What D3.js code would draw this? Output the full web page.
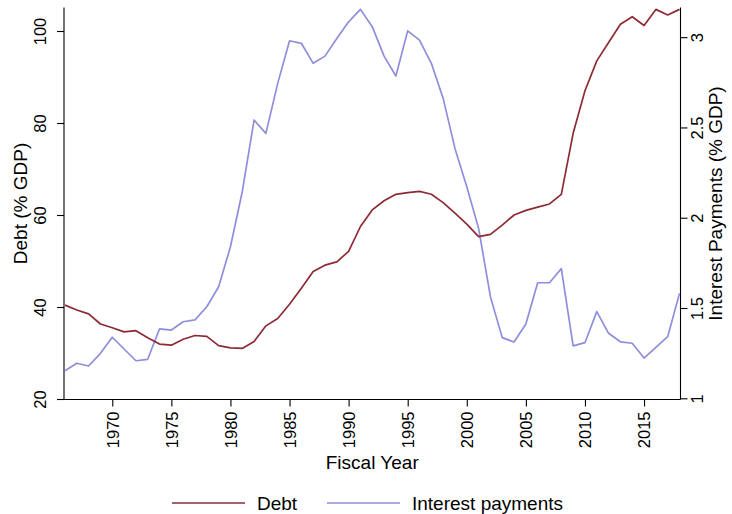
<!DOCTYPE html>
<html lang="en">
<head>
  <meta charset="UTF-8">
  <title>Debt and Interest Payments</title>
  <style>
    body { margin: 0; background: #fff; }
    svg { display: block; font-family: "Liberation Sans", Arial, sans-serif; }
    .axis path, .axis line { stroke: #000; stroke-width: 1.1; }
    .axis text { fill: #000; font-size: 16.5px; }
    .title { font-size: 19px; fill: #000; }
  </style>
</head>
<body>
  <script src="https://d3js.org/d3.v7.min.js"></script>
  <script>
    // fiscal years
    const years = [1966,1967,1968,1969,1970,1971,1972,1973,1974,1975,1976,1977,1978,1979,
      1980,1981,1982,1983,1984,1985,1986,1987,1988,1989,1990,1991,1992,1993,1994,1995,
      1996,1997,1998,1999,2000,2001,2002,2003,2004,2005,2006,2007,2008,2009,2010,2011,
      2012,2013,2014,2015,2016,2017,2018];

    // debt, % GDP (left axis)
    const debt = [40.4,39.35,38.5,36.3,35.5,34.6,34.85,33.3,31.95,31.7,33.0,33.8,33.6,31.6,
      31.1,31.0,32.5,35.9,37.5,40.6,44.1,47.7,49.1,49.8,52.1,57.5,61.1,63.1,64.5,64.85,
      65.15,64.5,62.7,60.4,58.0,55.3,55.8,57.8,60.0,61.0,61.7,62.4,64.5,77.75,87.0,93.5,
      97.5,101.45,103.1,101.2,104.7,103.5,104.7];

    // interest payments, % GDP (right axis)
    const interest = [1.153,1.194,1.179,1.249,1.338,1.273,1.208,1.216,1.385,1.378,1.424,1.434,
      1.507,1.618,1.839,2.144,2.541,2.467,2.744,2.980,2.966,2.855,2.895,2.993,3.085,3.154,
      3.058,2.895,2.785,3.035,2.984,2.855,2.661,2.384,2.172,1.941,1.563,1.336,1.312,1.411,
      1.640,1.640,1.718,1.290,1.308,1.480,1.360,1.313,1.305,1.223,1.282,1.341,1.581];

    const xTicks = [1970,1975,1980,1985,1990,1995,2000,2005,2010,2015];
    const leftTicks = [20,40,60,80,100];
    const rightTicks = [1,1.5,2,2.5,3];

    const W = 732, H = 514;
    const plot = {left: 64, right: 680.5, top: 7.5, bottom: 399.5};

    const svg = d3.select('body').append('svg')
      .attr('width', W).attr('height', H);

    const x = d3.scaleLinear().domain([1966, 2018]).range([plot.left + 1, plot.right - 1]);
    const yL = d3.scaleLinear().domain([20, 105]).range([399, 8]);
    const yR = d3.scaleLinear().domain([1, 3.1615]).range([398.3, 8]);

    // axes
    const xAxis = svg.append('g').attr('class', 'axis')
      .attr('transform', `translate(0,${plot.bottom})`)
      .call(d3.axisBottom(x).tickValues(xTicks).tickFormat(d3.format('d')).tickSize(7).tickSizeOuter(0));
    xAxis.select('.domain').attr('d', `M${plot.left},0H${plot.right}`);
    xAxis.selectAll('text')
      .attr('transform', 'rotate(-90)')
      .attr('x', -12).attr('y', 0).attr('dy', '0.35em')
      .attr('text-anchor', 'end');

    const lAxis = svg.append('g').attr('class', 'axis')
      .attr('transform', `translate(${plot.left},0)`)
      .call(d3.axisLeft(yL).tickValues(leftTicks).tickSize(7).tickSizeOuter(0));
    lAxis.select('.domain').attr('d', `M0,${plot.top}V${plot.bottom}`);
    lAxis.selectAll('text')
      .attr('transform', 'rotate(-90)')
      .attr('x', 0).attr('y', -24).attr('dy', '0.35em')
      .attr('text-anchor', 'middle');

    const rAxis = svg.append('g').attr('class', 'axis')
      .attr('transform', `translate(${plot.right},0)`)
      .call(d3.axisRight(yR).tickValues(rightTicks).tickFormat(d3.format('~g')).tickSize(7).tickSizeOuter(0));
    rAxis.select('.domain').attr('d', `M0,${plot.top}V${plot.bottom}`);
    rAxis.selectAll('text')
      .attr('transform', 'rotate(-90)')
      .attr('x', 0).attr('y', 17).attr('dy', '0.35em')
      .attr('text-anchor', 'middle');

    // lines
    const debtLine = d3.line().x((d, i) => x(years[i])).y(d => yL(d));
    const intLine = d3.line().x((d, i) => x(years[i])).y(d => yR(d));

    svg.append('path').datum(interest)
      .attr('d', intLine)
      .attr('fill', 'none').attr('stroke', '#8f8edc').attr('stroke-width', 1.7)
      .attr('stroke-linejoin', 'round');
    svg.append('path').datum(debt)
      .attr('d', debtLine)
      .attr('fill', 'none').attr('stroke', '#8c2b33').attr('stroke-width', 1.7)
      .attr('stroke-linejoin', 'round');

    // titles
    const midY = (plot.top + plot.bottom) / 2;
    svg.append('text').attr('class', 'title')
      .attr('transform', `translate(20,${midY}) rotate(-90)`)
      .attr('text-anchor', 'middle').attr('dy', '0.35em')
      .text('Debt (% GDP)');
    svg.append('text').attr('class', 'title')
      .attr('transform', `translate(715,${midY}) rotate(-90)`)
      .attr('text-anchor', 'middle').attr('dy', '0.35em')
      .text('Interest Payments (% GDP)');
    svg.append('text').attr('class', 'title')
      .attr('x', (plot.left + plot.right) / 2).attr('y', 462)
      .attr('text-anchor', 'middle').attr('dy', '0.35em')
      .text('Fiscal Year');

    // legend
    const legend = [
      {label: 'Debt', color: '#8c2b33', x: 172},
      {label: 'Interest payments', color: '#8f8edc', x: 327}
    ];
    const lg = svg.append('g').selectAll('g').data(legend).enter().append('g')
      .attr('transform', d => `translate(${d.x},503)`);
    lg.append('line').attr('x1', 0).attr('x2', 73)
      .attr('stroke', d => d.color).attr('stroke-width', 1.7);
    lg.append('text').attr('class', 'title')
      .attr('x', 85).attr('dy', '0.35em')
      .text(d => d.label);
  </script>
</body>
</html>
